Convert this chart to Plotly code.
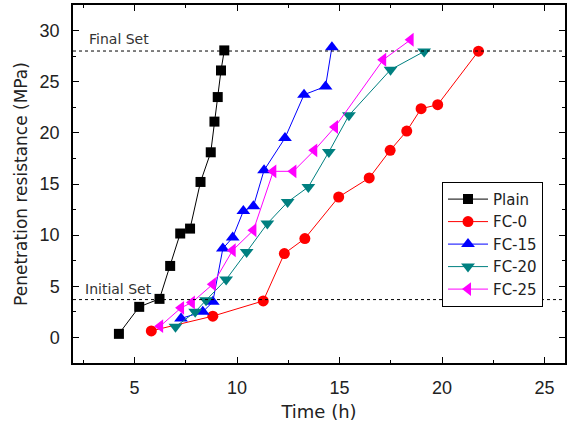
import plotly.graph_objects as go

plain_x = [4.24, 5.23, 6.22, 6.74, 7.23, 7.71, 8.22, 8.72, 8.90, 9.06, 9.22, 9.38]
plain_y = [0.35, 2.99, 3.77, 6.99, 10.16, 10.64, 15.2, 18.1, 21.1, 23.5, 26.1, 28.06]

fc0_x = [5.82, 8.82, 11.28, 12.31, 13.31, 14.96, 16.45, 17.47, 18.28, 18.98, 19.79, 21.78]
fc0_y = [0.64, 2.08, 3.57, 8.2, 9.67, 13.73, 15.59, 18.29, 20.18, 22.36, 22.75, 27.99]

fc15_x = [7.27, 8.33, 8.82, 9.31, 9.79, 10.31, 10.80, 11.32, 12.34, 13.27, 14.32, 14.63]
fc15_y = [1.86, 2.5, 3.48, 8.69, 9.77, 12.36, 12.82, 16.34, 19.49, 23.73, 24.54, 28.38]

fc20_x = [7.00, 7.96, 8.49, 9.47, 10.47, 11.48, 12.47, 13.48, 14.48, 15.46, 17.49, 19.13]
fc20_y = [1.04, 2.5, 3.64, 5.66, 8.36, 11.13, 13.24, 14.71, 18.13, 21.71, 26.17, 27.96]

fc25_x = [6.25, 7.27, 7.80, 8.82, 9.79, 10.80, 11.77, 12.75, 13.77, 14.78, 17.13, 18.47]
fc25_y = [1.1, 2.89, 3.42, 5.2, 8.52, 10.48, 16.24, 16.24, 18.29, 20.57, 27.15, 29.1]

initial_set = 3.7
final_set = 28.0

series = [
    ("Plain", plain_x, plain_y, "black", "square", 10),
    ("FC-0", fc0_x, fc0_y, "red", "circle", 11),
    ("FC-15", fc15_x, fc15_y, "blue", "triangle-up", 12),
    ("FC-20", fc20_x, fc20_y, "#008080", "triangle-down", 12),
    ("FC-25", fc25_x, fc25_y, "magenta", "triangle-left", 12),
]

fig = go.Figure()
for name, xs, ys, col, sym, sz in series:
    fig.add_trace(go.Scatter(
        x=xs, y=ys, name=name, mode="lines+markers",
        line=dict(color=col, width=1),
        marker=dict(symbol=sym, size=sz, color=col, line=dict(width=0)),
    ))

for yv in (initial_set, final_set):
    fig.add_shape(type="line", xref="paper", x0=0, x1=1, yref="y", y0=yv, y1=yv,
                  line=dict(color="black", width=1, dash="dot"))

tick_font = "Liberation Sans, Arial, sans-serif"
text_font = "DejaVu Sans, sans-serif"
fig.add_annotation(x=2.68, y=final_set, xref="x", yref="y", text="Final Set",
                   showarrow=False, xanchor="left", yanchor="bottom", yshift=2,
                   font=dict(size=14, color="#333333", family=text_font))
fig.add_annotation(x=2.5, y=initial_set, xref="x", yref="y", text="Initial Set",
                   showarrow=False, xanchor="left", yanchor="bottom", yshift=1,
                   font=dict(size=14, color="#333333", family=text_font))

axis_common = dict(
    showgrid=False, zeroline=False, showline=True, linecolor="black", linewidth=1.5,
    mirror="ticks", ticks="inside", ticklen=6, tickwidth=1, tickcolor="black",
    tickfont=dict(size=18, color="#222222", family=tick_font),
    automargin=False, ticklabelstandoff=8,
)

fig.update_xaxes(range=[2, 26], tickvals=[5, 10, 15, 20, 25], **axis_common,
                 minor=dict(ticks="inside", ticklen=3, tickcolor="black", tickwidth=1, tick0=0, dtick=2.5),
                 title=dict(text="Time (h)", font=dict(size=18, color="#222222", family=text_font), standoff=8))
fig.update_yaxes(range=[-2.5, 32.5], tickvals=[0, 5, 10, 15, 20, 25, 30], **axis_common,
                 minor=dict(ticks="inside", ticklen=3, tickcolor="black", tickwidth=1, tick0=0, dtick=2.5),
                 title=dict(text="Penetration resistance (MPa)", font=dict(size=17, color="#222222", family=text_font), standoff=8))

fig.update_layout(
    width=569, height=424,
    margin=dict(l=73, r=4, t=5, b=61),
    plot_bgcolor="white", paper_bgcolor="white",
    legend=dict(x=0.75, y=0.506, xanchor="left", yanchor="top",
                bordercolor="black", borderwidth=1, bgcolor="white",
                font=dict(size=15, color="#222222", family=text_font),
                tracegroupgap=0, itemwidth=40),
    showlegend=True,
)

fig.write_html("out.html", config={"displayModeBar": False},
               post_script="document.body.style.margin='0';")
